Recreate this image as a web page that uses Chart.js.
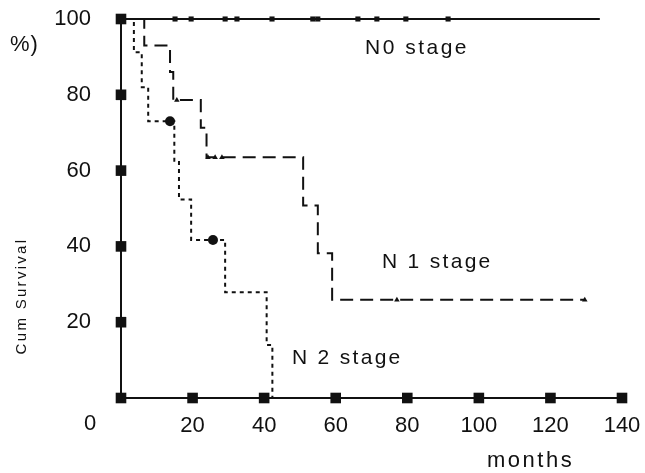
<!DOCTYPE html>
<html>
<head>
<meta charset="utf-8">
<title>Cum Survival by N stage</title>
<script src="https://cdn.jsdelivr.net/npm/chart.js@4.4.1/dist/chart.umd.min.js"></script>
<style>
  html, body { margin: 0; padding: 0; background: #fff; }
  #wrap { width: 645px; height: 473px; }
</style>
</head>
<body>
<div id="wrap"><canvas id="survChart" width="645" height="473"></canvas></div>
<script>
// axis ticks
const xTicks = [0, 20, 40, 60, 80, 100, 120, 140];   // months
const yTicks = [0, 20, 40, 60, 80, 100];             // cum survival %

// N0 stage - no events, only censored cases
const n0Events = [];
const n0Surv = [];
const n0Censored = [15.1, 19.6, 29.1, 32.4, 42.2, 53.6, 55.0, 66.2, 71.5, 79.6, 91.4];
const n0LastFollowUp = 133.8;

// N1 stage
const n1Events = [6.5, 13.7, 14.6, 22.3, 23.9, 50.9, 55.0, 59.0];
const n1Surv = [93, 86, 78.6, 71.3, 63.5, 50.8, 38.2, 25.9];
const n1Censored = [15.6, 24.3, 26.3, 28.2, 77.1, 129.6];
const n1LastFollowUp = 129.6;

// N2 stage
const n2Events = [3.6, 5.8, 7.6, 14.9, 16.2, 19.6, 29.1, 40.7, 42.3];
const n2Surv = [91.2, 82, 73, 62.6, 52.4, 41.7, 27.9, 14, 0];
const n2Censored = [13.7, 25.7];
const n2LastFollowUp = 42.3;

// step path of a KM curve built from event times / survival after each event
function kmLine(events, surv, last) {
    const pts = [{ x: 0, y: 100 }];
    let s = 100;
    for (let i = 0; i < events.length; i++) {
        pts.push({ x: events[i], y: s });
        s = surv[i];
        pts.push({ x: events[i], y: s });
    }
    const lastEvent = events.length ? events[events.length - 1] : 0;
    if (last > lastEvent) pts.push({ x: last, y: s });
    return pts;
}

function survAt(events, surv, t) {
    let s = 100;
    for (let i = 0; i < events.length; i++) {
        if (events[i] <= t) s = surv[i];
    }
    return s;
}

function censorPoints(events, surv, censored) {
    return censored.map(t => ({ x: t, y: survAt(events, surv, t) }));
}

const INK = '#111';

const tickMarks = yTicks.map(v => ({ x: 0, y: v }))
    .concat(xTicks.slice(1).map(v => ({ x: v, y: 0 })));

// free text on the plot (stage names, axis titles)
const textPlugin = {
    id: 'stageText',
    afterDraw(chart) {
        const ctx = chart.ctx;
        ctx.save();
        ctx.fillStyle = INK;
        ctx.textBaseline = 'middle';
        ctx.textAlign = 'left';
        ctx.letterSpacing = '2.5px';
        ctx.font = '21px "Liberation Sans", Arial, sans-serif';
        ctx.fillText('N0 stage', 365, 48);
        ctx.letterSpacing = '2.3px';
        ctx.fillText('N 1 stage', 382, 262);
        ctx.fillText('N 2 stage', 292, 358);
        ctx.letterSpacing = '2.5px';
        ctx.font = '22px "Liberation Sans", Arial, sans-serif';
        ctx.fillText('months', 487, 461);
        ctx.letterSpacing = '1px';
        ctx.fillText('%)', 10, 45);
        ctx.letterSpacing = '0px';
        ctx.textAlign = 'center';
        ctx.fillText('0', 90, 424);

        ctx.translate(22, 296);
        ctx.rotate(-Math.PI / 2);
        ctx.letterSpacing = '2.3px';
        ctx.font = '15px "Liberation Sans", Arial, sans-serif';
        ctx.fillText('Cum Survival', 0, 0);
        ctx.restore();
    }
};

const ctx = document.getElementById('survChart').getContext('2d');

new Chart(ctx, {
    type: 'scatter',
    data: {
        datasets: [
            {
                label: 'ticks',
                data: tickMarks,
                pointStyle: 'rect',
                pointRadius: 7.5,
                backgroundColor: INK,
                borderWidth: 0,
                showLine: false
            },
            {
                label: 'N0 censored',
                data: censorPoints(n0Events, n0Surv, n0Censored),
                pointStyle: 'rect',
                pointRadius: 3.6,
                backgroundColor: INK,
                borderWidth: 0,
                showLine: false
            },
            {
                label: 'N1 censored',
                data: censorPoints(n1Events, n1Surv, n1Censored),
                pointStyle: 'triangle',
                pointRadius: 3.2,
                backgroundColor: INK,
                borderWidth: 0,
                showLine: false
            },
            {
                label: 'N2 censored',
                data: censorPoints(n2Events, n2Surv, n2Censored),
                pointStyle: 'circle',
                pointRadius: 5,
                backgroundColor: INK,
                borderWidth: 0,
                showLine: false
            },
            {
                label: 'N0 stage',
                data: kmLine(n0Events, n0Surv, n0LastFollowUp),
                showLine: true,
                borderColor: INK,
                borderWidth: 2,
                pointRadius: 0
            },
            {
                label: 'N1 stage',
                data: kmLine(n1Events, n1Surv, n1LastFollowUp),
                showLine: true,
                borderColor: INK,
                borderWidth: 2,
                borderDash: [13, 7],
                pointRadius: 0
            },
            {
                label: 'N2 stage',
                data: kmLine(n2Events, n2Surv, n2LastFollowUp),
                showLine: true,
                borderColor: INK,
                borderWidth: 2,
                borderDash: [4, 4],
                pointRadius: 0
            }
        ]
    },
    options: {
        responsive: false,
        animation: false,
        devicePixelRatio: 1,
        clip: false,
        layout: { autoPadding: false, padding: { left: 0, right: 23, top: 19, bottom: 0 } },
        plugins: {
            legend: { display: false },
            tooltip: { enabled: false }
        },
        scales: {
            x: {
                type: 'linear',
                min: 0,
                max: 140,
                afterBuildTicks: scale => { scale.ticks = xTicks.map(v => ({ value: v })); },
                afterFit: scale => {
                    scale.height = 75;
                    scale.paddingLeft = 0;
                    scale.paddingRight = 0;
                },
                grid: { display: false, drawTicks: false },
                border: { display: true, color: INK, width: 2 },
                ticks: {
                    color: INK,
                    padding: 15,
                    maxRotation: 0,
                    font: { family: '"Liberation Sans", Arial, sans-serif', size: 22 },
                    callback: v => (v === 0 ? '' : v)
                }
            },
            y: {
                type: 'linear',
                min: 0,
                max: 100,
                afterBuildTicks: scale => { scale.ticks = yTicks.map(v => ({ value: v })); },
                afterFit: scale => {
                    scale.width = 121;
                    scale.paddingTop = 0;
                    scale.paddingBottom = 0;
                },
                grid: { display: false, drawTicks: false },
                border: { display: true, color: INK, width: 2 },
                ticks: {
                    color: INK,
                    padding: 30,
                    font: { family: '"Liberation Sans", Arial, sans-serif', size: 22 },
                    callback: v => (v === 0 ? '' : v)
                }
            }
        }
    },
    plugins: [textPlugin]
});
</script>
</body>
</html>
